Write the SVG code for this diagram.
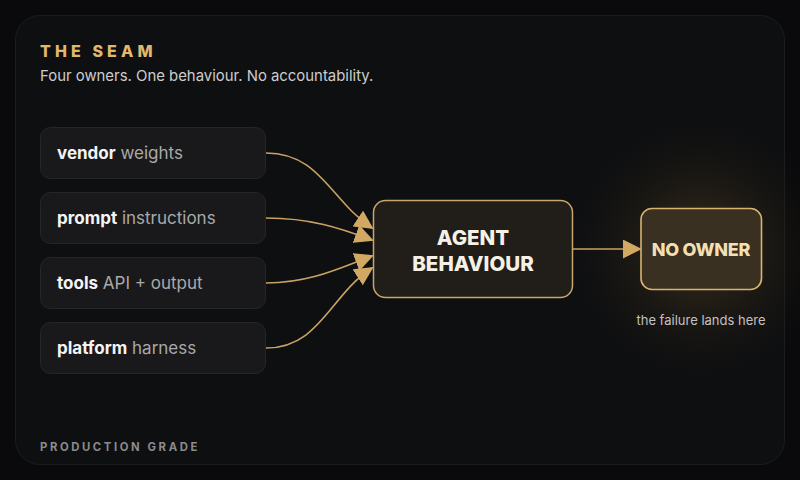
<svg xmlns="http://www.w3.org/2000/svg" width="800" height="480" viewBox="0 0 800 480">
<defs>
<style>
.t{font-family:Inter,"Noto Sans","Liberation Sans",sans-serif}
.src rect{fill:#19191b;stroke:#262628;stroke-width:1}
.src text{font-size:17px;fill:#a9a9a9}
.src .b{font-weight:700;fill:#f4f4f4}
.conn{fill:none;stroke:#c9a263;stroke-width:1.6}
</style>
<radialGradient id="glow" cx="0.5" cy="0.5" r="0.5">
<stop offset="0" stop-color="#6b5328" stop-opacity="0.55"/>
<stop offset="0.45" stop-color="#4a3a1e" stop-opacity="0.28"/>
<stop offset="1" stop-color="#2a2214" stop-opacity="0"/>
</radialGradient>
<marker id="ah2" viewBox="0 0 10 10" refX="9" refY="5" markerWidth="19" markerHeight="19" markerUnits="userSpaceOnUse" orient="auto">
<path d="M0,0 L10,5 L0,10 z" fill="#d2a962"/>
</marker>
</defs>
<rect width="800" height="480" fill="#0a0a0c"/>
<rect x="15.5" y="15.5" width="769" height="449" rx="24" fill="#0e0f11" stroke="#1c1c1f" stroke-width="1"/>
<circle cx="700" cy="249" r="130" fill="url(#glow)"/>

<text class="t" x="40" y="57" font-size="16" font-weight="800" letter-spacing="4.1" fill="#e2b86e">THE SEAM</text>
<text class="t" x="40" y="81" font-size="14.9" fill="#cdcdcd">Four owners. One behaviour. No accountability.</text>

<g id="conns">
<path class="conn" marker-end="url(#ah2)" d="M266,153 C320,153 330,200 372,228"/>
<path class="conn" marker-end="url(#ah2)" d="M266,218 C310,218 340,228 372,240"/>
<path class="conn" marker-end="url(#ah2)" d="M266,283 C310,283 340,268 372,256"/>
<path class="conn" marker-end="url(#ah2)" d="M266,348 C320,348 330,295 372,268"/>
<path class="conn" marker-end="url(#ah2)" d="M573,249 L640,249"/>
</g>

<g id="vendor" class="src t">
<rect x="40.5" y="127.5" width="225" height="51" rx="10"/>
<text x="57" y="159"><tspan class="b">vendor</tspan> weights</text>
</g>
<g id="prompt" class="src t">
<rect x="40.5" y="192.5" width="225" height="51" rx="10"/>
<text x="57" y="224"><tspan class="b">prompt</tspan> instructions</text>
</g>
<g id="tools" class="src t">
<rect x="40.5" y="257.5" width="225" height="51" rx="10"/>
<text x="57" y="289"><tspan class="b">tools</tspan> API + output</text>
</g>
<g id="platform" class="src t">
<rect x="40.5" y="322.5" width="225" height="51" rx="10"/>
<text x="57" y="354"><tspan class="b">platform</tspan> harness</text>
</g>

<g id="agent">
<rect x="373.5" y="200.5" width="199" height="97" rx="12" fill="#211e19" stroke="#c9a66d" stroke-width="1.5"/>
<text class="t" x="473" y="245" text-anchor="middle" font-size="20.5" font-weight="800" fill="#f6f1e6">AGENT</text>
<text class="t" x="473" y="271" text-anchor="middle" font-size="20.5" font-weight="800" fill="#f6f1e6">BEHAVIOUR</text>
</g>

<g id="noowner">
<rect x="641" y="208.5" width="120.5" height="81" rx="11" fill="#3a3022" stroke="#d8b46f" stroke-width="1.6"/>
<text class="t" x="701" y="255.5" text-anchor="middle" font-size="18" font-weight="800" fill="#f3dfb2" letter-spacing="-0.3">NO OWNER</text>
</g>
<text class="t" x="701" y="325" text-anchor="middle" font-size="13" fill="#c2c2c2">the failure lands here</text>

<text class="t" x="40" y="451" font-size="11.3" font-weight="700" letter-spacing="2.6" fill="#8b8b8b">PRODUCTION GRADE</text>
</svg>
